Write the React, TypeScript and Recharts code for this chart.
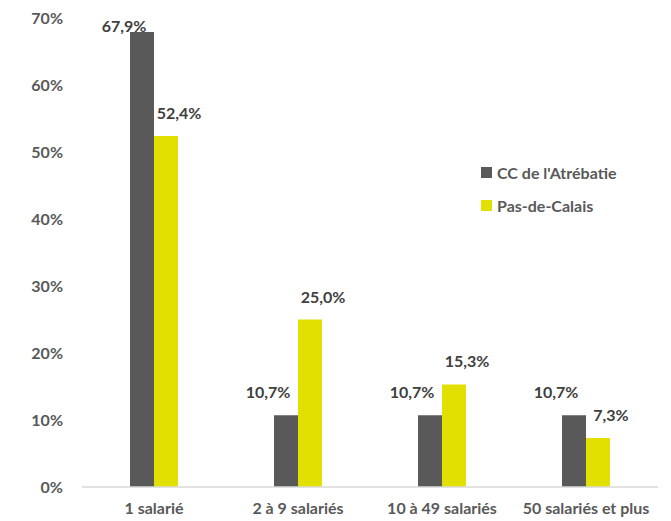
import React from 'react';
import { BarChart, Bar, XAxis, YAxis, LabelList } from 'recharts';

const categories = ['1 salarié', '2 à 9 salariés', '10 à 49 salariés', '50 salariés et plus'];
const atrebatie = [67.9, 10.7, 10.7, 10.7];
const pasDeCalais = [52.4, 25.0, 15.3, 7.3];
const yTicks = [0, 10, 20, 30, 40, 50, 60, 70];

const seriesNames = ["CC de l'Atrébatie", 'Pas-de-Calais'];
const colors = ['#595959', '#e2e000'];

const data = categories.map((cat, i) => ({
  cat,
  atrebatie: atrebatie[i],
  pdc: pasDeCalais[i],
}));

const FONT = 'Lato, "Open Sans", sans-serif';

const fmt = (v: number) => v.toFixed(1).replace('.', ',') + '%';

const makeLabel = (dx: number) => (props: any) => {
  const { x, y, width, value } = props;
  const ty = Math.max(y - 17, 32);
  return (
    <text
      x={x + width / 2 + dx}
      y={ty}
      textAnchor="middle"
      fill="#404040"
      fontSize={16}
      fontWeight={700}
      fontFamily={FONT}
    >
      {fmt(value)}
    </text>
  );
};

const LegendBox = () => (
  <div
    style={{
      position: 'absolute',
      left: 481,
      top: 156,
      fontFamily: FONT,
      fontSize: 16,
      fontWeight: 700,
      color: '#595959',
    }}
  >
    {seriesNames.map((name, i) => (
      <div key={name} style={{ display: 'flex', alignItems: 'center', height: 33 }}>
        <span style={{ width: 11, height: 11, background: colors[i], marginRight: 5, display: 'inline-block' }} />
        {name}
      </div>
    ))}
  </div>
);

export default function App() {
  return (
    <div style={{ position: 'absolute', left: 0, top: 0, width: 671, height: 521, background: '#fff' }}>
      <BarChart
        width={671}
        height={521}
        data={data}
        margin={{ top: 18, right: 13, left: 0, bottom: 0 }}
        barGap={0}
        barCategoryGap="33%"
      >
        <XAxis
          dataKey="cat"
          height={34}
          tickLine={false}
          tickSize={0}
          tickMargin={16}
          axisLine={{ stroke: '#d9d9d9', strokeWidth: 1.5 }}
          tick={{ fill: '#595959', fontSize: 16, fontWeight: 700, fontFamily: FONT }}
          interval={0}
        />
        <YAxis
          width={82}
          domain={[0, 70]}
          ticks={yTicks}
          tickFormatter={(v: number) => `${v}%`}
          axisLine={false}
          tickLine={false}
          tickSize={0}
          tickMargin={19}
          tick={{ fill: '#595959', fontSize: 16, fontWeight: 700, fontFamily: FONT }}
        />
        <Bar dataKey="atrebatie" name={seriesNames[0]} fill={colors[0]} barSize={24} isAnimationActive={false}>
          <LabelList dataKey="atrebatie" content={makeLabel(-18)} />
        </Bar>
        <Bar dataKey="pdc" name={seriesNames[1]} fill={colors[1]} barSize={24} isAnimationActive={false}>
          <LabelList dataKey="pdc" content={makeLabel(13)} />
        </Bar>
      </BarChart>
      <LegendBox />
    </div>
  );
}
